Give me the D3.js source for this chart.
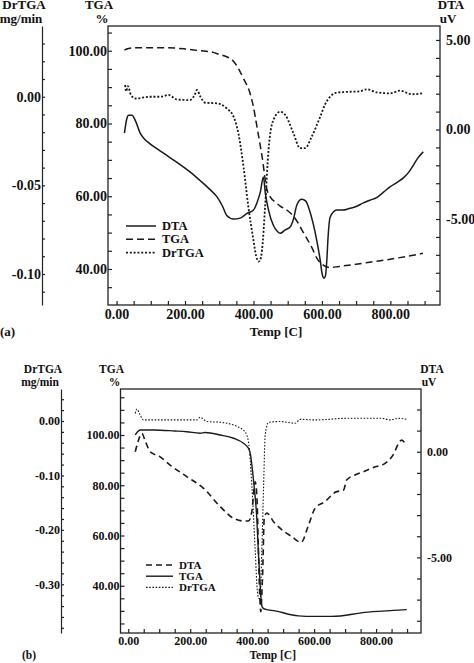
<!DOCTYPE html>
<html>
<head>
<meta charset="utf-8">
<script src="https://cdn.jsdelivr.net/npm/d3@7"></script>
<style>
  body { margin: 0; background: #fff; }
  svg text { font-family: "Liberation Serif", "Times New Roman", serif; font-weight: bold; fill: #111; }
  .axis path, .axis line { stroke: #222; stroke-width: 1.2; }
  .curve { fill: none; stroke: #1a1a1a; }
</style>
</head>
<body>
<script>
// ---- panel (a) data: temperature [C] and readings ----
var aTgaT = [23, 35, 50, 100, 150, 200, 244, 275, 300, 325, 341, 355, 370, 390, 400, 410, 425, 439, 449, 465, 478, 500, 517, 546, 570, 585, 605, 624, 650, 700, 750, 800, 850, 895];
var aTga  = [100.2, 100.6, 100.8, 100.8, 100.8, 100.5, 100, 99.7, 99.0, 98.2, 97.2, 95.3, 92.5, 88.3, 84.5, 79.2, 71, 62, 59.8, 58.3, 57.3, 56, 54.5, 50, 46, 43, 41, 40.4, 40.7, 41.3, 42, 42.7, 43.5, 44.3];

var aDtaT = [23, 30, 35, 45, 55, 69, 80, 98, 120, 147, 170, 196, 220, 244, 270, 293, 310, 322, 342, 361, 380, 400, 410, 420, 429, 435, 444, 458, 470, 478, 493, 507, 517, 527, 541, 553, 561, 575, 585, 595, 600, 606, 610, 614, 618, 624, 643, 660, 682, 700, 721, 740, 760, 780, 799, 820, 838, 855, 867, 880, 896];
var aDta  = [-0.2, 0.6, 0.8, 0.8, 0.5, -0.2, -0.5, -0.8, -1.1, -1.45, -1.75, -2.1, -2.45, -2.85, -3.3, -3.75, -4.3, -4.8, -5.0, -4.95, -4.7, -4.5, -4.1, -3.5, -2.65, -3.6, -4.5, -5.35, -5.7, -5.8, -5.6, -5.45, -5.0, -4.2, -3.9, -4.0, -4.35, -5.3, -6.2, -7.3, -8.0, -8.3, -8.2, -7.4, -6.0, -4.9, -4.5, -4.5, -4.4, -4.3, -4.1, -3.95, -3.8, -3.5, -3.2, -2.95, -2.7, -2.35, -2.0, -1.6, -1.25];

var aDrT  = [25, 28, 33, 42, 55, 98, 130, 152, 176, 215, 228, 235, 245, 259, 293, 322, 342, 356, 371, 385, 400, 408, 415, 420, 425, 434, 444, 458, 478, 493, 517, 536, 551, 570, 595, 610, 624, 643, 682, 710, 731, 760, 799, 828, 862, 895];
var aDr   = [0.0066, 0.003, 0.006, 0.001, -0.001, 0, 0, 0.001, -0.0015, -0.0019, 0.001, 0.0038, 0, -0.0034, -0.0037, -0.0066, -0.0113, -0.0207, -0.0396, -0.062, -0.081, -0.090, -0.093, -0.092, -0.0866, -0.062, -0.030, -0.0132, -0.0085, -0.0103, -0.0207, -0.029, -0.029, -0.0226, -0.0113, -0.004, 0, 0.0023, 0.0028, 0.0030, 0.0042, 0.0025, 0.0019, 0.0034, 0.0014, 0.0019];

// ---- panel (b) data ----
var bTgaT = [22.6, 30, 38.7, 81.7, 150, 189, 232, 248, 297, 340, 372, 388, 395, 399, 406, 415, 420, 426, 431, 436, 442, 474, 549, 600, 657, 765, 899];
var bTga  = [100, 101.3, 102, 102, 101.6, 101.3, 100.7, 101, 100, 98.7, 96.7, 94.7, 92, 88, 80, 66.8, 53.5, 40, 32, 31, 30.7, 30, 28, 27.8, 27.8, 29.4, 30.5];

var bDtaT = [22.6, 30, 44, 55, 71, 103, 135, 189, 243, 297, 340, 375, 388, 399, 405, 410, 415, 420, 424, 428, 431, 434, 439, 447, 469, 490, 528, 558, 582, 603, 635, 668, 695, 705, 732, 765, 797, 824, 851, 883, 896];
var bDta  = [0, 0.4, 0.87, 0.5, 0, -0.24, -0.63, -1.18, -1.73, -2.6, -3.15, -3.28, -3.28, -2.84, -1.9, -1.42, -2.05, -4.5, -6.62, -7.57, -6.8, -5.68, -3.15, -2.9, -3.31, -3.62, -4.02, -4.29, -3.47, -2.68, -2.36, -1.92, -1.81, -1.34, -1.1, -0.91, -0.71, -0.6, -0.24, 0.55, 0.32];

var bDrT  = [22.6, 28, 35, 49, 135, 222, 232, 254, 297, 351, 377, 388, 399, 410, 417, 422, 426, 431, 437, 442, 453, 490, 539, 555, 603, 711, 818, 845, 872, 899];
var bDr   = [0.014, 0.022, 0.015, 0.002, 0.002, 0.002, 0.007, -0.001, -0.0024, -0.01, -0.02, -0.038, -0.118, -0.24, -0.314, -0.326, -0.326, -0.24, -0.118, -0.026, -0.0024, -0.001, -0.004, 0.003, 0.002, 0.005, 0.005, 0.002, 0.005, 0.003];

// ---- tick labels ----
var tempLabels = [0, 200, 400, 600, 800];
var tgaLabels = [40, 60, 80, 100];
var aDrLabels = [-0.10, -0.05, 0.00];
var aDtaLabels = [-5, 0, 5];
var bDrLabels = [-0.30, -0.20, -0.10, 0.00];
var bDtaLabels = [-5, 0];

var svg = d3.select("body").append("svg")
    .attr("width", 474)
    .attr("height", 663);

var fmt = function(v) { return v.toFixed(2); };
function isMajor(list, v) { return list.some(function(m) { return Math.abs(m - v) < 1e-9; }); }
function stepTicks(domain, step) {
    var lo = Math.ceil(domain[0] / step - 1e-9), hi = Math.floor(domain[1] / step + 1e-9);
    return d3.range(lo, hi + 1).map(function(i) { return +(i * step).toFixed(6); });
}

function drawPanel(p) {
    var g = svg.append("g");
    var x = d3.scaleLinear().domain([-25, 945]).range([p.left, p.right]);
    var yT = d3.scaleLinear().domain(p.tgaDom).range([p.bottom, p.top]);
    var yR = d3.scaleLinear().domain(p.drDom).range([p.bottom, p.top]);
    var yD = d3.scaleLinear().domain(p.dtaDom).range([p.bottom, p.top]);

    // frame
    g.append("rect")
        .attr("x", p.left).attr("y", p.top)
        .attr("width", p.right - p.left).attr("height", p.bottom - p.top)
        .attr("fill", "none").attr("stroke", "#222").attr("stroke-width", 1.3);

    // Temp axis
    g.append("g").attr("class", "axis")
        .attr("transform", "translate(0," + p.bottom + ")")
        .style("font-size", p.tfs + "px")
        .call(d3.axisBottom(x).tickValues(stepTicks([0, 900], 50))
            .tickSizeInner(-4).tickSizeOuter(0).tickPadding(p.xPad)
            .tickFormat(function(v) { return isMajor(tempLabels, v) ? fmt(v) : ""; }))
        .call(function(a) { a.select(".domain").remove(); });

    // TGA axis
    g.append("g").attr("class", "axis")
        .attr("transform", "translate(" + p.left + ",0)")
        .style("font-size", p.tfs + "px")
        .call(d3.axisLeft(yT).tickValues(stepTicks(p.tgaDom, 5))
            .tickSizeInner(-4).tickSizeOuter(0).tickPadding(1)
            .tickFormat(function(v) { return isMajor(tgaLabels, v) ? fmt(v) : ""; }))
        .call(function(a) { a.select(".domain").remove(); });

    // DrTGA axis (separate, left)
    g.append("g").attr("class", "axis")
        .attr("transform", "translate(" + p.drX + ",0)")
        .style("font-size", p.tfs + "px")
        .call(d3.axisLeft(yR).tickValues(stepTicks(p.drDom, p.drStep))
            .tickSizeInner(-3).tickSizeOuter(0).tickPadding(1)
            .tickFormat(function(v) { return isMajor(p.drLabels, v) ? fmt(v) : ""; }));

    // DTA axis (right)
    g.append("g").attr("class", "axis")
        .attr("transform", "translate(" + p.right + ",0)")
        .style("font-size", p.tfs + "px")
        .call(d3.axisRight(yD).tickValues(stepTicks(p.dtaDom, 1))
            .tickSizeInner(-4).tickSizeOuter(0).tickPadding(6)
            .tickFormat(function(v) { return isMajor(p.dtaLabels, v) ? fmt(v) : ""; }))
        .call(function(a) { a.select(".domain").remove(); });

    g.selectAll(".axis text").attr("fill", "#111");

    // curves
    var series = [
        { t: p.dtaT, v: p.dta, y: yD, style: p.dtaStyle, name: "DTA" },
        { t: p.tgaT, v: p.tga, y: yT, style: p.tgaStyle, name: "TGA" },
        { t: p.drT, v: p.dr, y: yR, style: p.drStyle, name: "DrTGA" }
    ];
    series.forEach(function(s, i) {
        var line = d3.line()
            .x(function(d) { return x(d[0]); })
            .y(function(d) { return s.y(d[1]); })
            .curve(d3.curveMonotoneX);
        g.append("path").attr("class", "curve")
            .attr("d", line(d3.zip(s.t, s.v)))
            .attr("stroke-width", s.style.w)
            .attr("stroke-dasharray", s.style.dash);

        // legend
        var ly = p.legY + i * p.legGap;
        g.append("line").attr("class", "curve")
            .attr("x1", p.legX).attr("x2", p.legX + p.legLen)
            .attr("y1", ly).attr("y2", ly)
            .attr("stroke-width", s.style.w)
            .attr("stroke-dasharray", s.style.dash);
        g.append("text")
            .attr("x", p.legX + p.legLen + 6).attr("y", ly + 4)
            .style("font-size", p.lfs + "px")
            .text(s.name);
    });

    // axis titles
    function label(txt, xx, yy, anchor) {
        g.append("text").attr("x", xx).attr("y", yy)
            .attr("text-anchor", anchor || "middle")
            .style("font-size", p.fs + "px").text(txt);
    }
    label("DrTGA", p.drX - 18, p.t1);
    label("mg/min", p.drX - 21, p.t2);
    label("TGA", p.left - 9, p.t1);
    label("%", p.left - 6, p.t2);
    label("DTA", p.right + 11, p.t1);
    label("uV", p.right + 8, p.t2);
    label("Temp  [C]", (p.left + p.right) / 2 + 2, p.bottom + p.titleDy);
    label(p.tag, p.tagX, p.bottom + p.titleDy, "start");
}

drawPanel({
    left: 108, right: 440, top: 26, bottom: 305, drX: 42,
    tgaDom: [30.1, 106.8], drDom: [-0.1175, 0.0399], dtaDom: [-9.8, 5.78],
    drStep: 0.01, drLabels: aDrLabels, dtaLabels: aDtaLabels,
    tgaT: aTgaT, tga: aTga, dtaT: aDtaT, dta: aDta, drT: aDrT, dr: aDr,
    dtaStyle: { w: 1.5, dash: null },
    tgaStyle: { w: 1.5, dash: "7,4" },
    drStyle: { w: 1.8, dash: "2,1.8" },
    fs: 13, tfs: 14, lfs: 12.5, xPad: 4, t1: 8.5, t2: 22.5, titleDy: 31,
    legX: 126, legY: 226, legGap: 13.3, legLen: 30,
    tag: "(a)", tagX: 0
});

drawPanel({
    left: 120.5, right: 421, top: 389, bottom: 633, drX: 61,
    tgaDom: [21.2, 118.3], drDom: [-0.3895, 0.0588], dtaDom: [-8.58, 2.97],
    drStep: 0.02, drLabels: bDrLabels, dtaLabels: bDtaLabels,
    tgaT: bTgaT, tga: bTga, dtaT: bDtaT, dta: bDta, drT: bDrT, dr: bDr,
    dtaStyle: { w: 1.6, dash: "6,4" },
    tgaStyle: { w: 1.4, dash: null },
    drStyle: { w: 1.1, dash: "1.6,1.6" },
    fs: 11.5, tfs: 12, lfs: 11, xPad: 3, t1: 373, t2: 385.5, titleDy: 25.5,
    legX: 146, legY: 565, legGap: 11.2, legLen: 27,
    tag: "(b)", tagX: 22
});
</script>
</body>
</html>
